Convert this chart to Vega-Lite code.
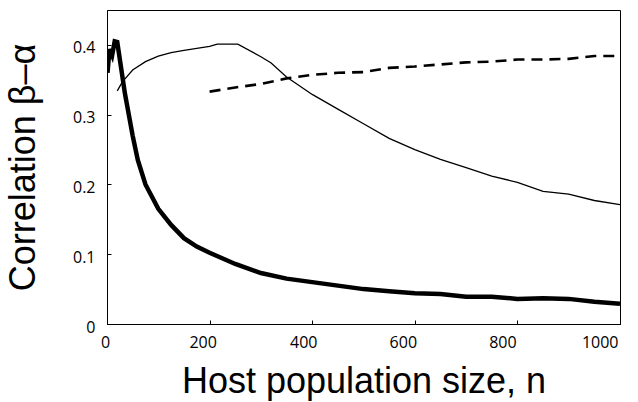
{
  "$schema": "https://vega.github.io/schema/vega-lite/v6.json",
  "autosize": {"type": "none"},
  "width": 513,
  "height": 314,
  "padding": {"left": 107, "top": 10, "right": 18, "bottom": 78},
  "background": "white",
  "config": {
    "view": {"stroke": "black", "strokeWidth": 1},
    "axis": {"grid": false, "domainColor": "black", "tickColor": "black", "labelColor": "black", "titleColor": "black", "labelFont": "Open Sans", "labelFontSize": 16, "titleFont": "Liberation Sans", "titleFontSize": 36, "titleFontWeight": "normal"}
  },
  "data": {"values": [
    {"s": "thick", "n": 1, "v": 0.36}, {"s": "thick", "n": 5, "v": 0.394}, {"s": "thick", "n": 10, "v": 0.385}, {"s": "thick", "n": 15, "v": 0.405}, {"s": "thick", "n": 20, "v": 0.404},
    {"s": "thick", "n": 35, "v": 0.33}, {"s": "thick", "n": 50, "v": 0.27}, {"s": "thick", "n": 60, "v": 0.235}, {"s": "thick", "n": 75, "v": 0.2}, {"s": "thick", "n": 100, "v": 0.165},
    {"s": "thick", "n": 125, "v": 0.142}, {"s": "thick", "n": 150, "v": 0.123}, {"s": "thick", "n": 175, "v": 0.111}, {"s": "thick", "n": 200, "v": 0.102}, {"s": "thick", "n": 250, "v": 0.086},
    {"s": "thick", "n": 300, "v": 0.073}, {"s": "thick", "n": 350, "v": 0.065}, {"s": "thick", "n": 400, "v": 0.06}, {"s": "thick", "n": 450, "v": 0.055}, {"s": "thick", "n": 500, "v": 0.05},
    {"s": "thick", "n": 550, "v": 0.047}, {"s": "thick", "n": 600, "v": 0.044}, {"s": "thick", "n": 650, "v": 0.043}, {"s": "thick", "n": 700, "v": 0.039}, {"s": "thick", "n": 750, "v": 0.039},
    {"s": "thick", "n": 800, "v": 0.036}, {"s": "thick", "n": 850, "v": 0.037}, {"s": "thick", "n": 900, "v": 0.036}, {"s": "thick", "n": 950, "v": 0.032}, {"s": "thick", "n": 1000, "v": 0.029},
    {"s": "thin", "n": 20, "v": 0.334}, {"s": "thin", "n": 30, "v": 0.347}, {"s": "thin", "n": 50, "v": 0.364}, {"s": "thin", "n": 75, "v": 0.376}, {"s": "thin", "n": 100, "v": 0.384},
    {"s": "thin", "n": 125, "v": 0.389}, {"s": "thin", "n": 150, "v": 0.392}, {"s": "thin", "n": 175, "v": 0.395}, {"s": "thin", "n": 200, "v": 0.398}, {"s": "thin", "n": 215, "v": 0.401},
    {"s": "thin", "n": 255, "v": 0.401}, {"s": "thin", "n": 300, "v": 0.383}, {"s": "thin", "n": 320, "v": 0.374}, {"s": "thin", "n": 350, "v": 0.354}, {"s": "thin", "n": 400, "v": 0.329},
    {"s": "thin", "n": 450, "v": 0.308}, {"s": "thin", "n": 500, "v": 0.287}, {"s": "thin", "n": 550, "v": 0.266}, {"s": "thin", "n": 600, "v": 0.25}, {"s": "thin", "n": 650, "v": 0.236},
    {"s": "thin", "n": 700, "v": 0.224}, {"s": "thin", "n": 750, "v": 0.212}, {"s": "thin", "n": 800, "v": 0.203}, {"s": "thin", "n": 850, "v": 0.19}, {"s": "thin", "n": 900, "v": 0.186},
    {"s": "thin", "n": 950, "v": 0.177}, {"s": "thin", "n": 1000, "v": 0.171},
    {"s": "dashed", "n": 200, "v": 0.333}, {"s": "dashed", "n": 250, "v": 0.339}, {"s": "dashed", "n": 300, "v": 0.344}, {"s": "dashed", "n": 350, "v": 0.352}, {"s": "dashed", "n": 400, "v": 0.357},
    {"s": "dashed", "n": 450, "v": 0.36}, {"s": "dashed", "n": 500, "v": 0.361}, {"s": "dashed", "n": 550, "v": 0.367}, {"s": "dashed", "n": 600, "v": 0.369}, {"s": "dashed", "n": 650, "v": 0.372},
    {"s": "dashed", "n": 700, "v": 0.375}, {"s": "dashed", "n": 750, "v": 0.376}, {"s": "dashed", "n": 800, "v": 0.379}, {"s": "dashed", "n": 850, "v": 0.379}, {"s": "dashed", "n": 900, "v": 0.38},
    {"s": "dashed", "n": 950, "v": 0.384}, {"s": "dashed", "n": 1000, "v": 0.384}
  ]},
  "encoding": {
    "x": {"field": "n", "type": "quantitative", "scale": {"domain": [0, 1000], "nice": false},
      "axis": {"title": "Host population size, n", "values": [0, 200, 400, 600, 800, 1000], "format": "d", "tickSize": -4, "labelPadding": 14, "titlePadding": 14, "labelFlush": false,
        "labelAlign": {"condition": {"test": "datum.value == 1000", "value": "right"}, "value": "center"},
        "labelOffset": {"condition": [
          {"test": "datum.value == 200", "value": -7},
          {"test": "datum.value == 400", "value": -9},
          {"test": "datum.value == 600", "value": -12},
          {"test": "datum.value == 800", "value": -15}
        ], "value": -2}}},
    "y": {"field": "v", "type": "quantitative", "scale": {"domain": [0, 0.45], "nice": false},
      "axis": {"title": "Correlation β–α", "values": [0, 0.1, 0.2, 0.3, 0.4], "tickSize": -4, "labelPadding": 16, "labelOffset": 3, "titlePadding": 30,
        "labelExpr": "datum.value == 0 ? '0' : format(datum.value, '.1f')"}}
  },
  "layer": [
    {"transform": [{"filter": "datum.s == 'thick'"}], "mark": {"type": "line", "color": "black", "strokeWidth": 4.5, "clip": true}},
    {"transform": [{"filter": "datum.s == 'thin'"}], "mark": {"type": "line", "color": "black", "strokeWidth": 1.3, "clip": true}},
    {"transform": [{"filter": "datum.s == 'dashed'"}], "mark": {"type": "line", "color": "black", "strokeWidth": 2.6, "strokeDash": [11, 7], "clip": true}}
  ]
}
